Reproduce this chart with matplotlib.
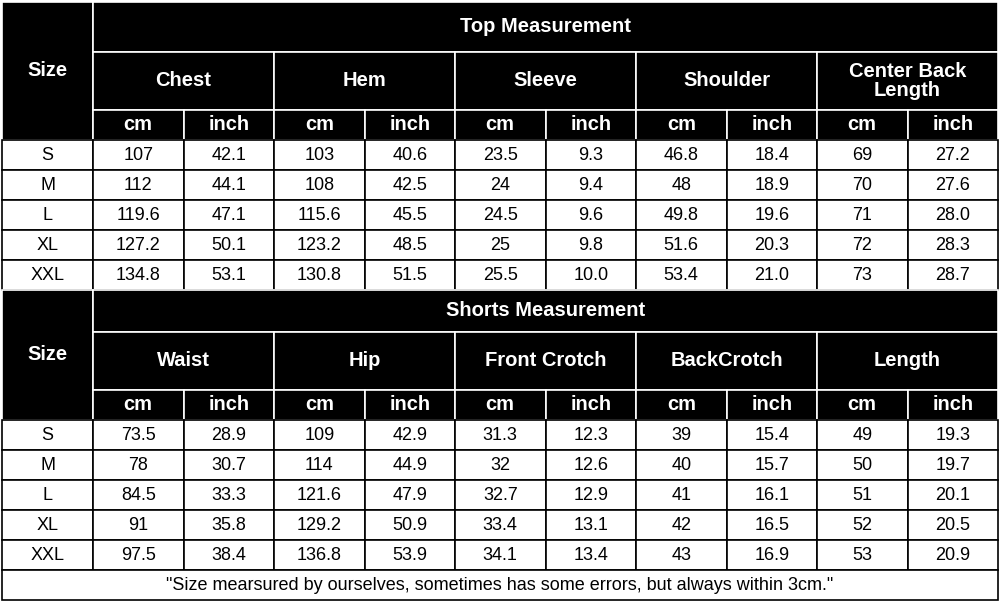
import matplotlib
matplotlib.use("Agg")
import matplotlib.pyplot as plt
from matplotlib.patches import Rectangle

sizes = ["S", "M", "L", "XL", "XXL"]
top_title = "Top Measurement"
top_groups = ["Chest", "Hem", "Sleeve", "Shoulder", "Center Back\nLength"]
top_values = [
    ["107", "42.1", "103", "40.6", "23.5", "9.3", "46.8", "18.4", "69", "27.2"],
    ["112", "44.1", "108", "42.5", "24", "9.4", "48", "18.9", "70", "27.6"],
    ["119.6", "47.1", "115.6", "45.5", "24.5", "9.6", "49.8", "19.6", "71", "28.0"],
    ["127.2", "50.1", "123.2", "48.5", "25", "9.8", "51.6", "20.3", "72", "28.3"],
    ["134.8", "53.1", "130.8", "51.5", "25.5", "10.0", "53.4", "21.0", "73", "28.7"],
]
shorts_title = "Shorts Measurement"
shorts_groups = ["Waist", "Hip", "Front Crotch", "BackCrotch", "Length"]
shorts_values = [
    ["73.5", "28.9", "109", "42.9", "31.3", "12.3", "39", "15.4", "49", "19.3"],
    ["78", "30.7", "114", "44.9", "32", "12.6", "40", "15.7", "50", "19.7"],
    ["84.5", "33.3", "121.6", "47.9", "32.7", "12.9", "41", "16.1", "51", "20.1"],
    ["91", "35.8", "129.2", "50.9", "33.4", "13.1", "42", "16.5", "52", "20.5"],
    ["97.5", "38.4", "136.8", "53.9", "34.1", "13.4", "43", "16.9", "53", "20.9"],
]
units = ["cm", "inch"]
footer = '"Size mearsured by ourselves, sometimes has some errors, but always within 3cm."'

fig = plt.figure(figsize=(10, 6.02), dpi=100)
ax = fig.add_axes([0, 0, 1, 1])
ax.set_xlim(0, 1000); ax.set_ylim(602, 0); ax.axis("off")
FONT = "Liberation Sans"

x0, xs = 2, 93
cw = (998 - xs) / 10

def cell(x, y, w, h, txt, dark, size=13):
    ax.add_patch(Rectangle((x, y), w, h, facecolor="black" if dark else "white",
                           edgecolor="white" if dark else "black", lw=1.2))
    ax.text(x + w / 2, y + h / 2, txt, ha="center", va="center", family=FONT,
            color="white" if dark else "black", fontsize=size,
            fontweight="bold" if dark else "normal", linespacing=1.0)

def section(ytop, title, groups, values, h1, h2):
    hu = 30; hr = 30
    cell(x0, ytop, xs - x0, h1 + h2 + hu, "Size", True, 14.5)
    cell(xs, ytop, 998 - xs, h1, title, True, 14.5)
    for i, g in enumerate(groups):
        cell(xs + 2 * i * cw, ytop + h1, 2 * cw, h2, g, True, 14.5)
    for j in range(10):
        cell(xs + j * cw, ytop + h1 + h2, cw, hu, units[j % 2], True, 14.5)
    y = ytop + h1 + h2 + hu
    for r, s in enumerate(sizes):
        cell(x0, y + r * hr, xs - x0, hr, s, False)
        for j, v in enumerate(values[r]):
            cell(xs + j * cw, y + r * hr, cw, hr, v, False)
    return y + 5 * hr

y = section(2, top_title, top_groups, top_values, 50, 58)
y = section(y, shorts_title, shorts_groups, shorts_values, 42, 58)
ax.add_patch(Rectangle((x0, y), 998 - x0, 30, facecolor="white", edgecolor="black", lw=1.2))
ax.text(500, y + 15, footer, ha="center", va="center", family=FONT, fontsize=13)

fig.savefig("out.png", dpi=100)
